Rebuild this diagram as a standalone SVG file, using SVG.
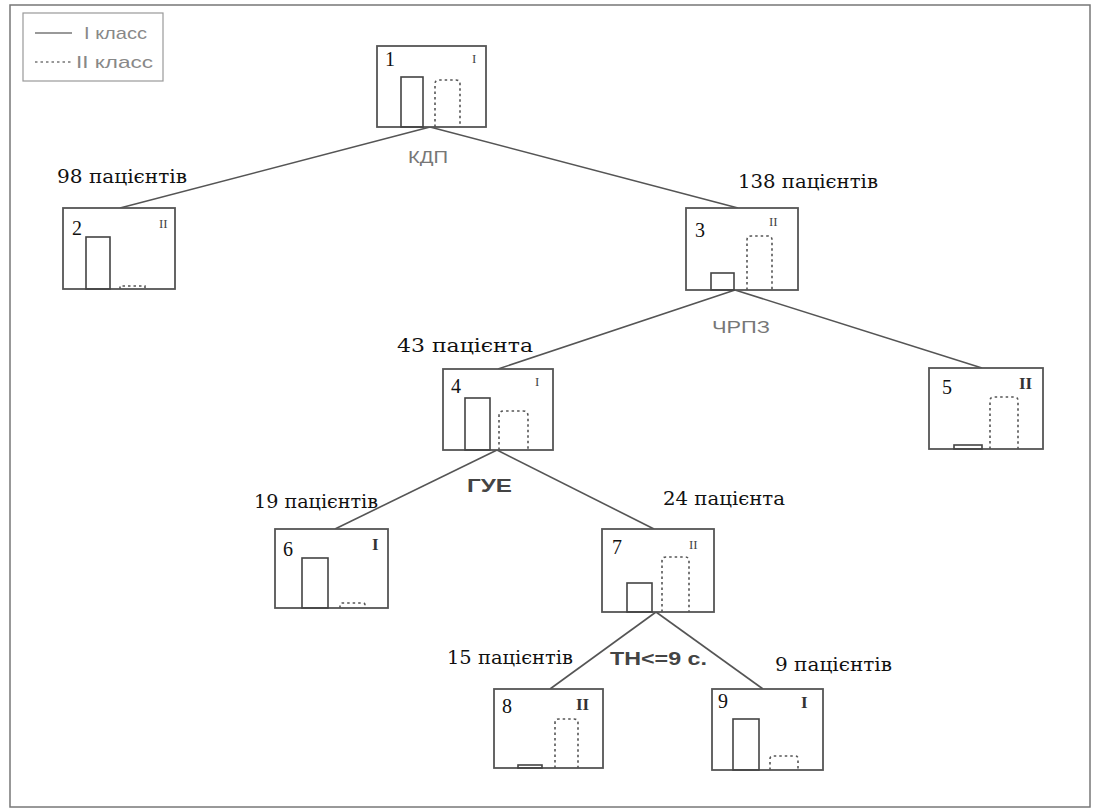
<svg xmlns="http://www.w3.org/2000/svg" width="1094" height="810" viewBox="0 0 1094 810">
<style>
.frame{fill:#fff;stroke:#777;stroke-width:1.5}
.box{fill:#fff;stroke:#555;stroke-width:1.8}
.bar{fill:none;stroke:#444;stroke-width:1.6}
.dbar{fill:none;stroke:#555;stroke-width:1.6;stroke-dasharray:2.5,3}
.edge{fill:none;stroke:#555;stroke-width:1.6}
.num{font-family:"Liberation Serif","DejaVu Serif",serif;font-size:20px;fill:#111}
.rom{font-family:"Liberation Serif","DejaVu Serif",serif;font-size:13px;fill:#444}
.romb{font-family:"Liberation Serif","DejaVu Serif",serif;font-size:17px;font-weight:bold;fill:#333}
.cnt{font-family:"DejaVu Serif","Liberation Serif",serif;font-size:19px;fill:#111}
.split{font-family:"Liberation Sans",Arial,sans-serif;font-size:17px;fill:#777}
.splitb{font-family:"Liberation Sans",Arial,sans-serif;font-size:18px;font-weight:bold;fill:#444}
.leg{font-family:"Liberation Sans",Arial,sans-serif;font-size:17px;fill:#888}
</style>
<rect class="frame" x="10" y="5" width="1080" height="802"/>
<g id="legend">
<rect x="23" y="13" width="140" height="68" fill="#fff" stroke="#999" stroke-width="1.2"/>
<line x1="35" y1="33" x2="72" y2="33" stroke="#777" stroke-width="1.5"/>
<text class="leg" x="84" y="39" textLength="63" lengthAdjust="spacingAndGlyphs">I класс</text>
<line x1="35" y1="62" x2="72" y2="62" stroke="#777" stroke-width="1.5" stroke-dasharray="2.5,3"/>
<text class="leg" x="76" y="68" textLength="77" lengthAdjust="spacingAndGlyphs">II класс</text>
</g>
<g id="connectors">
<line class="edge" x1="430" y1="127" x2="120" y2="208"/>
<line class="edge" x1="430" y1="127" x2="738" y2="208"/>
<line class="edge" x1="735" y1="290" x2="498" y2="369"/>
<line class="edge" x1="735" y1="290" x2="982" y2="368"/>
<line class="edge" x1="497" y1="450" x2="335" y2="529"/>
<line class="edge" x1="497" y1="450" x2="654" y2="529"/>
<line class="edge" x1="656" y1="612" x2="550" y2="689"/>
<line class="edge" x1="656" y1="612" x2="763" y2="689"/>
<text class="split" x="408" y="163" textLength="40" lengthAdjust="spacingAndGlyphs">КДП</text>
<text class="split" x="712" y="333" textLength="58" lengthAdjust="spacingAndGlyphs">ЧРПЗ</text>
<text class="splitb" x="467" y="492" textLength="45" lengthAdjust="spacingAndGlyphs">ГУЕ</text>
<text class="splitb" x="610" y="665" font-size="21" textLength="97" lengthAdjust="spacingAndGlyphs">ТН&lt;=9 с.</text>
<text class="cnt" x="57" y="183" textLength="130" lengthAdjust="spacingAndGlyphs">98 пацієнтів</text>
<text class="cnt" x="738" y="188" textLength="140" lengthAdjust="spacingAndGlyphs">138 пацієнтів</text>
<text class="cnt" x="397" y="352" textLength="136" lengthAdjust="spacingAndGlyphs">43 пацієнта</text>
<text class="cnt" x="254" y="508" textLength="124" lengthAdjust="spacingAndGlyphs">19 пацієнтів</text>
<text class="cnt" x="663" y="505" textLength="122" lengthAdjust="spacingAndGlyphs">24 пацієнта</text>
<text class="cnt" x="447" y="664" textLength="126" lengthAdjust="spacingAndGlyphs">15 пацієнтів</text>
<text class="cnt" x="775" y="671" textLength="117" lengthAdjust="spacingAndGlyphs">9 пацієнтів</text>
</g>
<g id="node1">
<rect class="box" x="377" y="46" width="109" height="81"/>
<text class="num" x="385" y="66">1</text>
<text class="rom" x="472" y="63">I</text>
<rect class="bar" x="401" y="77" width="22" height="50"/>
<path class="dbar" d="M435 127 V84 Q435 80 439 80 H456 Q460 80 460 84 V127"/>
</g>
<g id="node2">
<rect class="box" x="63" y="208" width="112" height="81"/>
<text class="num" x="72" y="235">2</text>
<text class="rom" x="159" y="228">II</text>
<rect class="bar" x="86" y="237" width="24" height="52"/>
<path class="dbar" d="M120 289 V286 H145 V289"/>
</g>
<g id="node3">
<rect class="box" x="686" y="208" width="112" height="82"/>
<text class="num" x="695" y="237">3</text>
<text class="rom" x="769" y="226">II</text>
<rect class="bar" x="711" y="273" width="23" height="17"/>
<path class="dbar" d="M747 290 V240 Q747 236 751 236 H768 Q772 236 772 240 V290"/>
</g>
<g id="node4">
<rect class="box" x="443" y="369" width="110" height="81"/>
<text class="num" x="451" y="393">4</text>
<text class="rom" x="535" y="386">I</text>
<rect class="bar" x="465" y="398" width="25" height="52"/>
<path class="dbar" d="M499 450 V416 Q499 411 504 411 H523 Q528 411 528 416 V450"/>
</g>
<g id="node5">
<rect class="box" x="929" y="368" width="114" height="81"/>
<text class="num" x="942" y="394">5</text>
<text class="romb" x="1019" y="389">II</text>
<rect class="bar" x="954" y="445" width="28" height="4"/>
<path class="dbar" d="M990 449 V401 Q990 397 994 397 H1014 Q1018 397 1018 401 V449"/>
</g>
<g id="node6">
<rect class="box" x="275" y="529" width="113" height="79"/>
<text class="num" x="283" y="556">6</text>
<text class="romb" x="372" y="550">I</text>
<rect class="bar" x="302" y="558" width="26" height="50"/>
<path class="dbar" d="M340 608 V605 Q340 603 342 603 H363 Q365 603 365 605 V608"/>
</g>
<g id="node7">
<rect class="box" x="602" y="529" width="112" height="83"/>
<text class="num" x="612" y="554">7</text>
<text class="rom" x="689" y="549">II</text>
<rect class="bar" x="627" y="583" width="25" height="29" stroke-width="2.4"/>
<path class="dbar" d="M662 612 V561 Q662 557 666 557 H685 Q689 557 689 561 V612"/>
</g>
<g id="node8">
<rect class="box" x="494" y="689" width="109" height="79"/>
<text class="num" x="502" y="713">8</text>
<text class="romb" x="576" y="710">II</text>
<rect class="bar" x="518" y="765" width="24" height="3"/>
<path class="dbar" d="M555 768 V723 Q555 719 559 719 H574 Q578 719 578 723 V768"/>
</g>
<g id="node9">
<rect class="box" x="712" y="689" width="111" height="81"/>
<text class="num" x="718" y="708">9</text>
<text class="romb" x="801" y="708">I</text>
<rect class="bar" x="733" y="719" width="26" height="51"/>
<path class="dbar" d="M770 770 V759 Q770 756 773 756 H795 Q798 756 798 759 V770"/>
</g>
</svg>
